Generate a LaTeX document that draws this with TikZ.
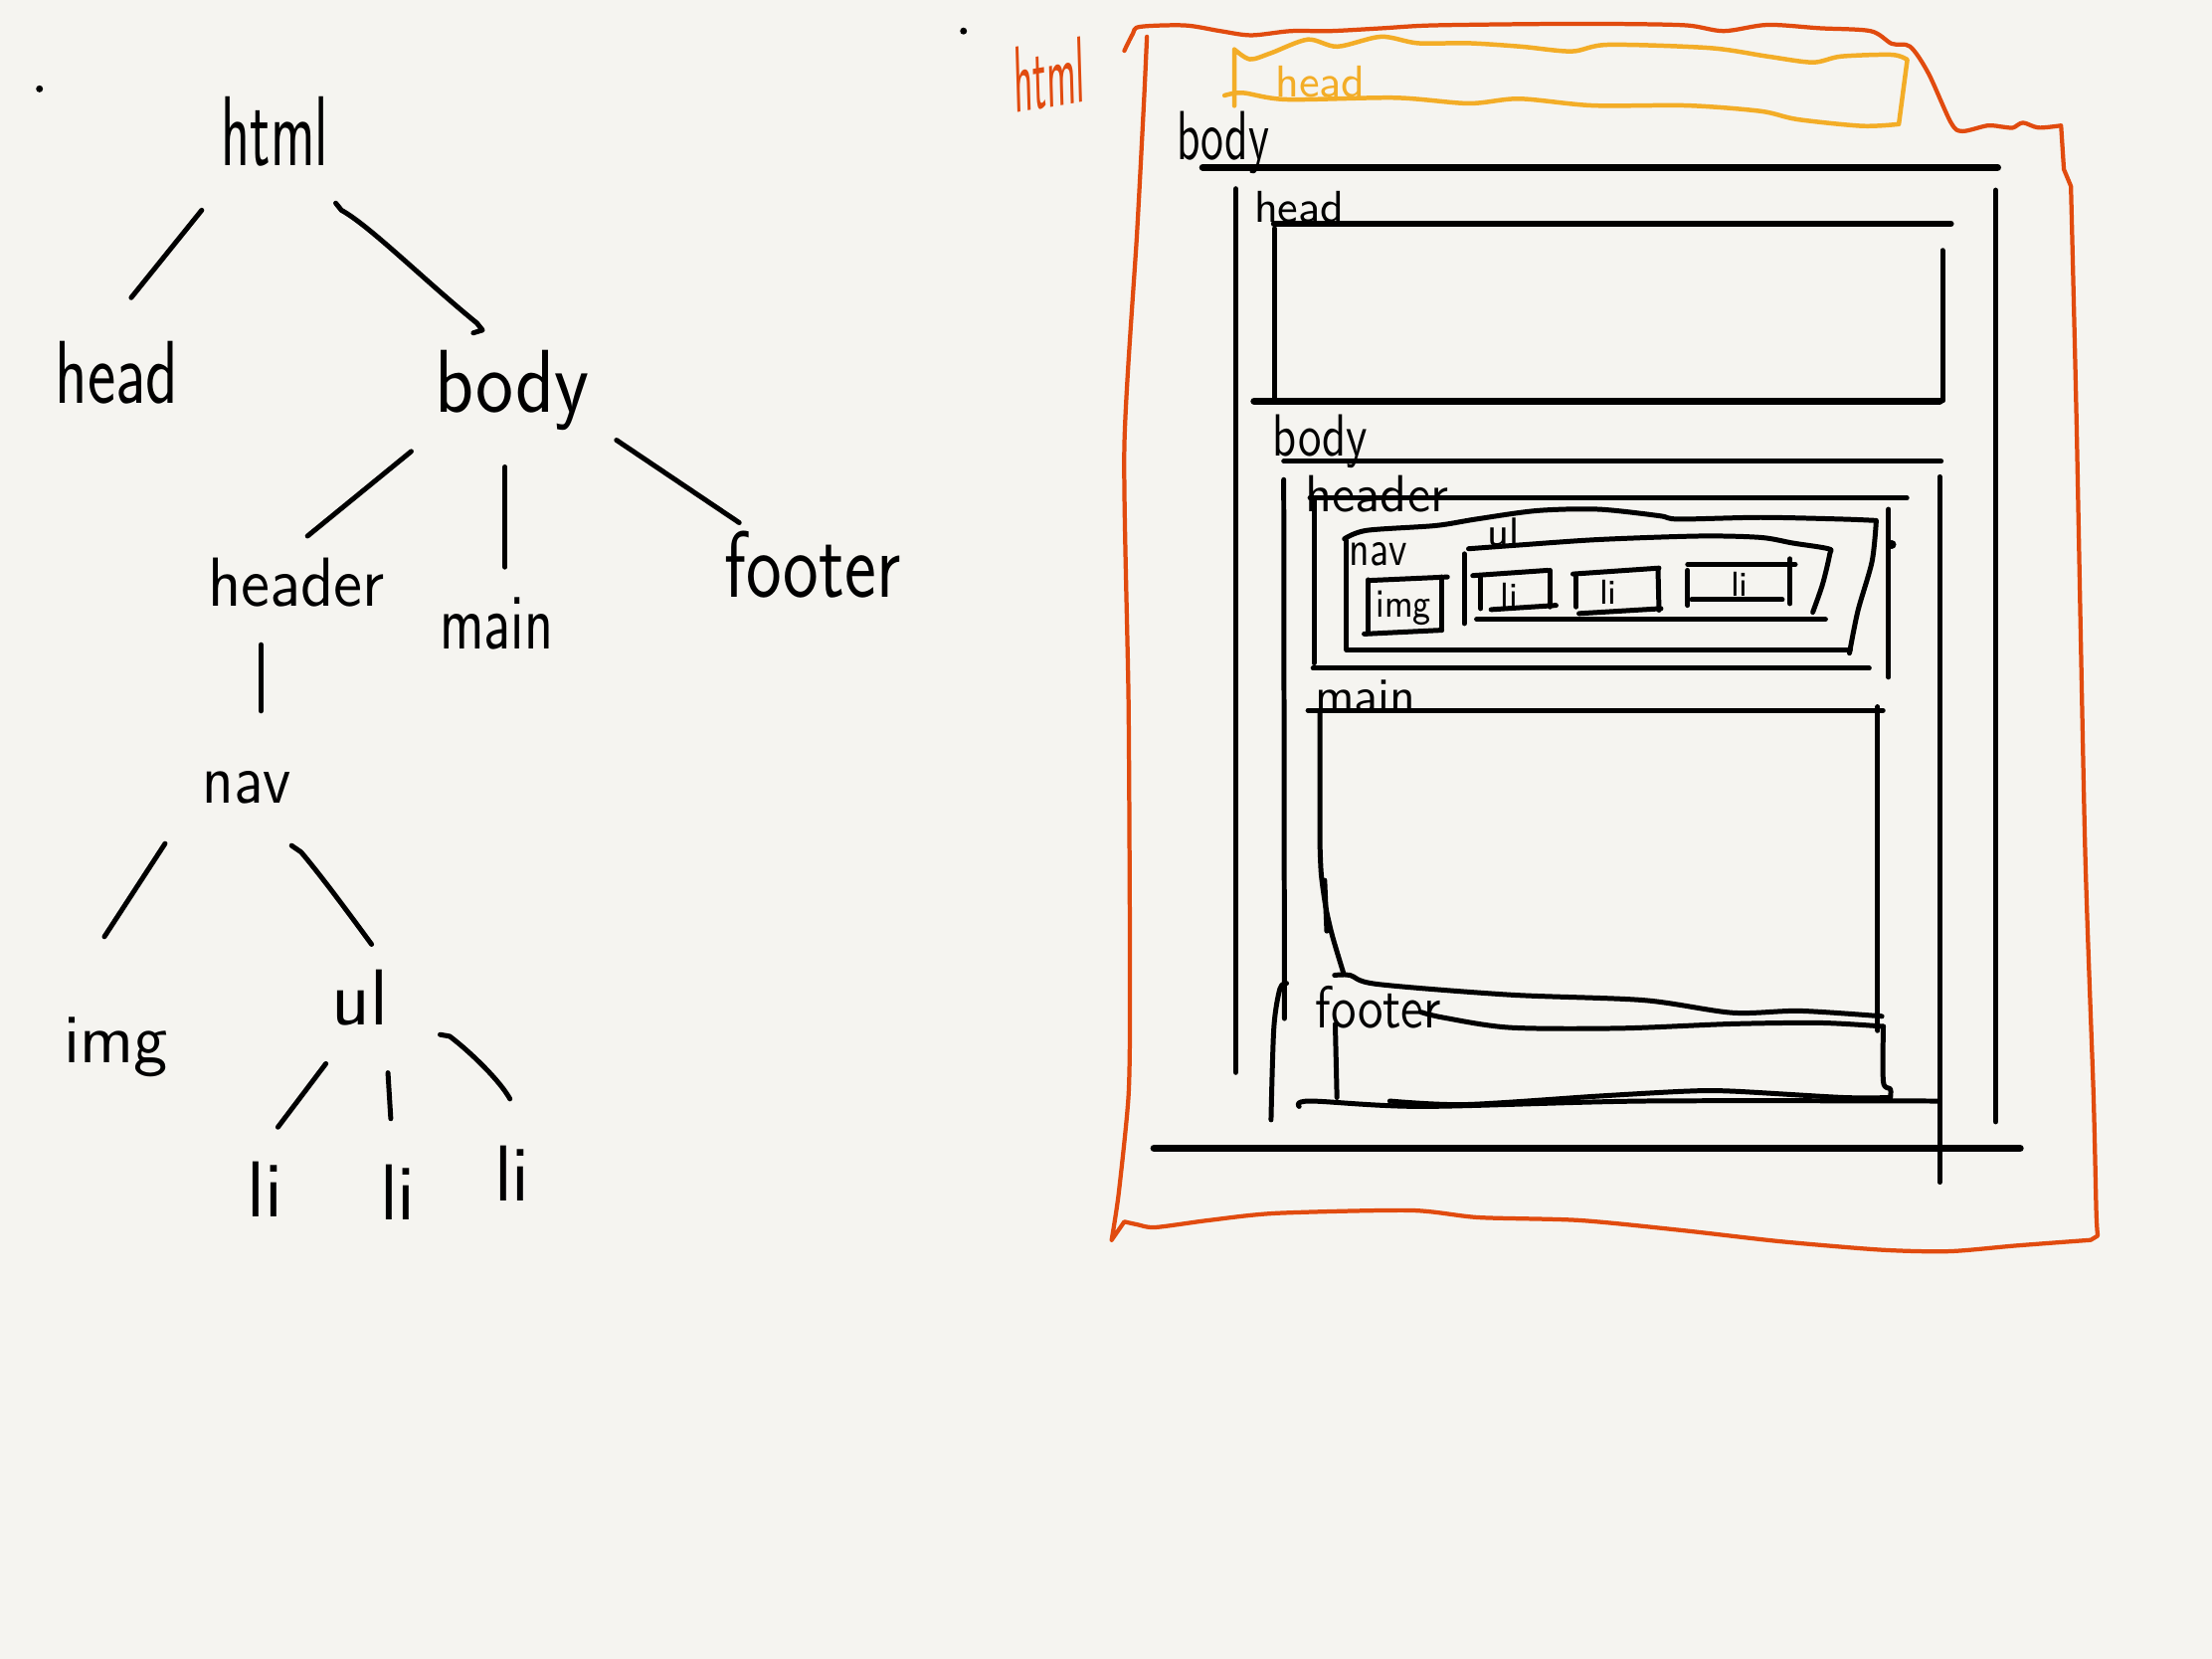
\documentclass[tikz,border=0pt]{standalone}
\usepackage{fontspec}
\usetikzlibrary{calc}
\definecolor{paper}{HTML}{F5F4F0}
\definecolor{redink}{HTML}{E14B0F}
\definecolor{yelink}{HTML}{F3AD27}
\newcommand{\hsz}[1]{\fontsize{#1}{#1}\selectfont\sffamily}
\begin{document}
\begin{tikzpicture}[x=0.01cm,y=-0.01cm,
  ink/.style={draw=black,line width=1pt,line cap=round,line join=round},
  thick ink/.style={ink,line width=1.45pt},
  redline/.style={draw=redink,line width=0.85pt,line cap=round,line join=round},
  yelline/.style={draw=yelink,line width=0.9pt,line cap=round,line join=round},
  lbl/.style={inner sep=0pt,text=black},
  dotmark/.style={fill=black,circle,inner sep=0pt,minimum size=1.4pt}]
\fill[paper] (0,0) rectangle (1568,1176);
\useasboundingbox (0,0) rectangle (1568,1176);

% ---------------- left tree ----------------
\node[lbl,font=\hsz{20},xscale=.6] (html) at (195,93) {html};
\node[lbl,font=\hsz{18},xscale=.75] (head) at (83,264) {head};
\node[lbl,font=\hsz{18},xscale=.9] (body) at (363,277) {body};
\node[lbl,font=\hsz{14},xscale=.95] (header) at (210,413) {header};
\node[lbl,font=\hsz{16},xscale=.75] (main) at (352,442) {main};
\node[lbl,font=\hsz{19},xscale=.8] (footer) at (576,400) {footer};
\node[lbl,font=\hsz{14},xscale=.9] (nav) at (175,558) {nav};
\node[lbl,font=\hsz{14}] (img) at (82,742) {img};
\node[lbl,font=\hsz{16}] (ul) at (255,707) {ul};
\node[lbl,font=\hsz{16}] (li1) at (188,843) {li};
\node[lbl,font=\hsz{16}] (li2) at (282,845) {li};
\node[lbl,font=\hsz{16}] (li3) at (363,832) {li};
\node[dotmark] (dotA) at (28,63) {};
\node[dotmark] (dotB) at (683,22) {};

\draw[ink] ($(html)+(-52,56)$) -- ($(head)+(10,-53)$);
\draw[ink] ($(html)+(43,51)$) -- ($(html)+(47,56)$)
  .. controls ($(html)+(67,67)$) and ($(body)+(-63,-79)$) .. ($(body)+(-25,-48)$)
  -- ($(body)+(-21,-43)$) -- ($(body)+(-27.5,-41)$);
\draw[ink] ($(body)+(-71.5,43)$) -- ($(header)+(8,-33)$);
\draw[ink] ($(body)+(-5,54)$) -- ($(main)+(6,-40)$);
\draw[ink] ($(body)+(74,35)$) -- ($(footer)+(-52,-29.5)$);
\draw[ink] ($(header)+(-25,44)$) -- ($(nav)+(10,-54)$);
\draw[ink] ($(nav)+(-58,40)$) -- ($(img)+(-8,-78)$);
\draw[ink] ($(nav)+(31.7,41.4)$) -- ($(nav)+(38.4,46)$)
  .. controls ($(nav)+(52,62)$) and ($(ul)+(-8,-60)$) .. ($(ul)+(8.4,-37.6)$);
\draw[ink] ($(ul)+(-24,47)$) -- ($(li1)+(9,-44)$);
\draw[ink] ($(ul)+(20,53.5)$) -- ($(li2)+(-5,-52)$);
\draw[ink] ($(ul)+(57,26.4)$) -- ($(ul)+(63.8,27.6)$)
  .. controls ($(ul)+(80,40)$) and ($(li3)+(-8,-65)$) .. ($(li3)+(-1.5,-53)$);

% ---------------- right sketch ----------------
% red html outline
\draw[redline] plot[smooth,tension=.5] coordinates {(797,36) (803,24) (808,19) (840,18) (865,22) (887,25) (915,22) (943,22) (980,20) (1015,18) (1093,17) (1150,17) (1196,18) (1222,22) (1253,17.6) (1290,20) (1326,22) (1341,31) (1354,33) (1367,52) (1383,87) (1391,93) (1409,89) (1420,90) (1427,90.5) (1434,87) (1445,90.5) (1461,89)}
  -- (1463,120) -- (1468,132)
  plot[smooth,tension=.4] coordinates {(1468,132) (1472,300) (1478,600) (1484,776) (1486,860) (1487,876)}
  -- (1482,879)
  plot[smooth,tension=.45] coordinates {(1482,879) (1429,883) (1382,887) (1334,886) (1262,880) (1191,872) (1119,865) (1048,863) (1000,858) (905,860) (857,865) (819,870) (806,868) (797,866)}
  -- (788,879)
  plot[smooth,tension=.4] coordinates {(788,879) (793,846) (800,776) (801,700) (800,500) (797,317) (806,165) (811,70) (813,26)};
\node[lbl,text=redink,font=\hsz{19},xscale=.42,rotate=4] (htmlR) at (744,53) {html};

% yellow head
\draw[yelline] (875,75) -- (875,35)
  plot[smooth,tension=.5] coordinates {(875,35) (886,42) (901,37.6) (927,28) (948,33) (979,26) (1005,30.6) (1041,30.6) (1078,33) (1114,36.4) (1140,31.7) (1212,34) (1253,40) (1285,44.2) (1305,40) (1341,38.8) (1352,42.3)}
  -- (1346,88)
  plot[smooth,tension=.5] coordinates {(1346,88) (1320,89.3) (1274,84.6) (1248,78.8) (1196,74.8) (1129,74.8) (1077,70) (1041,73.3) (989,69.3) (912,70.5) (881,65.8) (868,67.7)};
\node[lbl,text=yelink,font=\hsz{9}] (headY) at (936,58) {head};

% black body / head
\node[lbl,font=\hsz{14},xscale=.67] (bodyR1) at (867,101) {body};
\draw[thick ink] (852.6,118.7) -- (1416,118.7);
\draw[ink,line width=1.15pt] (876,134) -- (876,760);
\draw[ink,line width=1.15pt] (1414.7,135) -- (1414.7,795);
\node[lbl,font=\hsz{9}] (headR) at (921,147) {head};
\draw[ink,line width=1.2pt] (903,158.7) -- (1383,158.7);
\draw[ink] (903.3,162) -- (903.3,282);
\draw[ink] (1377,177.5) -- (1377,284);
\draw[thick ink] (889,284.4) -- (1375,284.4);

% body 2
\node[lbl,font=\hsz{12},xscale=.8] (bodyR2) at (936,313) {body};
\draw[ink] (910,327) -- (1376,327);
\draw[ink] (910,340) -- (910.5,722);
\draw[ink] (1375,338) -- (1375,838);

% header
\node[lbl,font=\hsz{10.5}] (headerR) at (976,350) {header};
\draw[ink] (928.6,353) -- (1351.7,353);
\draw[ink] (931.5,355) -- (931.5,470);
\draw[ink] (930.8,473.7) -- (1325,473.7);
\draw[ink] (1338.8,361) -- (1338.8,480);
\node[dotmark,minimum size=1.8pt] (dotC) at (1341,386) {};

% nav box
\draw[ink] plot[smooth,tension=.5] coordinates {(953,382) (968.7,376) (1017.6,372.6) (1046.4,368) (1089.6,362) (1132.8,361) (1176,365.6) (1190,368) (1248,366.8) (1305.6,368) (1330,369)}
  plot[smooth,tension=.5] coordinates {(1330,369) (1327,398) (1317,433) (1311,463)};
\draw[ink] (1311.6,460.7) -- (954.6,460.7) -- (954.6,383.4);
\node[lbl,font=\hsz{10},xscale=.8] (navR) at (977,393) {nav};

% ul box
\node[lbl,font=\hsz{8}] (ulR) at (1066,377) {ul};
\draw[ink] plot[smooth,tension=.5] coordinates {(1041,389) (1075,386.5) (1133,382.5) (1205,380) (1248,381) (1271,385) (1296,389) (1297,393) (1292,414) (1285,434)};
\draw[ink] (1046.7,439) -- (1294,439);
\draw[ink] (1038,392.6) -- (1038,442);

% img box
\draw[ink] (970,411.5) -- (1026,409);
\draw[ink] (970,411) -- (970,449);
\draw[ink] (967,449.4) -- (1022,446.7);
\draw[ink] (1022,409) -- (1022,446.7);
\node[lbl,font=\hsz{8},xscale=.85] (imgR) at (995,431) {img};

% li boxes
\draw[ink] (1044,408) -- (1097,404.3);
\draw[ink] (1049.7,408) -- (1049.7,431.4);
\draw[ink] (1098.6,404.3) -- (1098.6,430.2);
\draw[ink] (1057,432.1) -- (1103,429.1);
\node[lbl,font=\hsz{7}] (liR1) at (1070,422) {li};
\draw[ink] (1115,406.9) -- (1176,402.7);
\draw[ink] (1117.3,408) -- (1117.3,430.2);
\draw[ink] (1175.3,403.4) -- (1176,432.5);
\draw[ink] (1119.3,434.9) -- (1177.4,431.4);
\node[lbl,font=\hsz{7}] (liR2) at (1140,420) {li};
\draw[ink] (1196.3,400.1) -- (1272.6,400.1);
\draw[ink] (1196.3,404.3) -- (1196.3,429.1);
\draw[ink] (1268.9,396.1) -- (1268.9,427.9);
\draw[ink] (1199.2,425.1) -- (1263.4,425.1);
\node[lbl,font=\hsz{7}] (liR3) at (1233,414) {li};

% main
\node[lbl,font=\hsz{10}] (mainR) at (968,494) {main};
\draw[ink] (927.2,503.5) -- (1334.8,503.5);
\draw[ink] (935.7,503.5) -- (935.7,600)
  plot[smooth,tension=.5] coordinates {(935.7,600) (936.6,620) (939.8,643) (944.5,663.6) (952.4,690)};
\draw[ink] (939,624) -- (940.5,660);
\draw[ink] plot[smooth,tension=.5] coordinates {(946,691.3) (957,691.3) (976,697.6) (1070.7,705.2) (1165,709) (1228,717.9) (1275.8,716.6) (1334,720.4)};
\draw[ink] (1331.1,501) -- (1331.1,730.6);

% footer
\node[lbl,font=\hsz{12},xscale=.87] (footerR) at (977,714) {footer};
\draw[ink] plot[smooth,tension=.5] coordinates {(1007.4,717.5) (1023,721.3) (1070.4,728.4) (1149,728.9) (1228,725.8) (1291,725.1) (1335,727.6)};
\draw[ink] (946.5,726) -- (947.7,778);
\draw[ink] plot[smooth,tension=.5] coordinates {(1335,727.6) (1335,766.7) (1340,772) (1340,778)};
\draw[ink] plot[smooth,tension=.5] coordinates {(1340,778) (1306.6,778) (1228,773.5) (1196,773.5) (1133,777) (1038.6,783) (985.2,780.5)};
\draw[ink] plot[smooth,tension=.5] coordinates {(920.9,784.3) (928.8,780.5) (1007.4,784.3) (1164.7,780.5) (1374,780.5)};
\draw[ink] plot[smooth,tension=.5] coordinates {(901,793.8) (903,728.6) (907.3,700.9) (912,697)};
\draw[thick ink] (818,814) -- (1432,814);
\end{tikzpicture}
\end{document}
